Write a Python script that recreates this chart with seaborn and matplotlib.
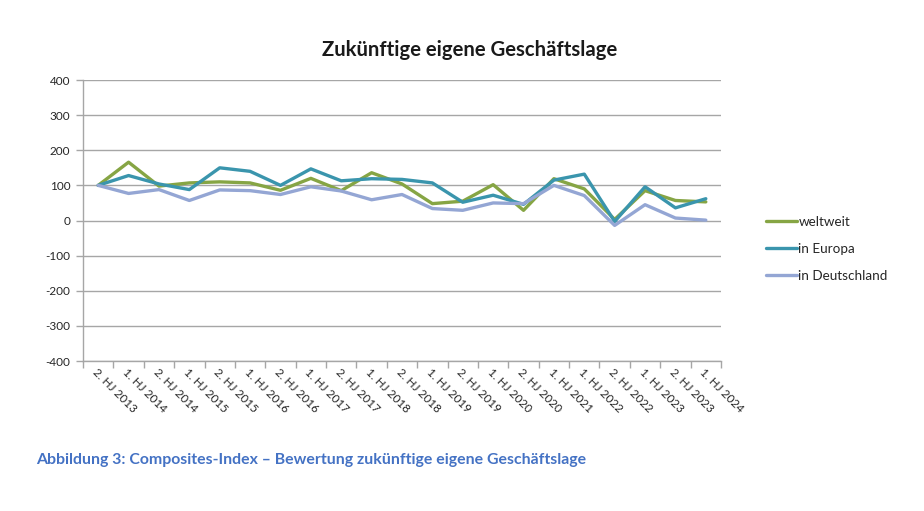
import numpy as np
import pandas as pd
import matplotlib.pyplot as plt
import seaborn as sns

sns.set_theme(style="white")
plt.rcParams['font.family'] = ['Lato', 'DejaVu Sans']
plt.rcParams['axes.unicode_minus'] = False

perioden = ["2. HJ 2013", "1. HJ 2014", "2. HJ 2014", "1. HJ 2015", "2. HJ 2015",
            "1. HJ 2016", "2. HJ 2016", "1. HJ 2017", "2. HJ 2017", "1. HJ 2018",
            "2. HJ 2018", "1. HJ 2019", "2. HJ 2019", "1. HJ 2020", "2. HJ 2020",
            "1. HJ 2021", "1. HJ 2022", "2. HJ 2022", "1. HJ 2023", "2. HJ 2023",
            "1. HJ 2024"]
weltweit = [100, 166, 98, 107, 110, 107, 86, 120, 85, 136,
            104, 48, 55, 102, 29, 119, 90, 3, 85, 57, 53]
europa = [100, 128, 104, 88, 150, 140, 100, 147, 113, 119,
          117, 107, 52, 72, 46, 115, 132, -3, 96, 36, 62]
deutschland = [100, 77, 88, 57, 87, 85, 74, 96, 84, 59,
               74, 34, 29, 50, 48, 100, 71, -14, 45, 7, 1]

serien = ["weltweit", "in Europa", "in Deutschland"]
farben = ["#86A544", "#3A95AD", "#94A6D4"]

df = pd.DataFrame({
    "pos": list(range(len(perioden))) * 3,
    "wert": weltweit + europa + deutschland,
    "serie": [s for s in serien for _ in perioden],
})

fig = plt.figure(figsize=(9.24, 5.11), dpi=100)
ax = fig.add_axes([83/924, 1-361/511, (721-83)/924, (361-80)/511])

sns.lineplot(data=df, x="pos", y="wert", hue="serie", hue_order=serien,
             palette=farben, linewidth=2.4, sort=False, ax=ax)

ax.set_xlim(-0.5, len(perioden) - 0.5)
ax.set_ylim(-400, 400)
ax.set_yticks(np.arange(-400, 401, 100))
ax.yaxis.grid(True, color="#A6A6A6", linewidth=1)
ax.set_axisbelow(True)

# tick marks at category borders, labels at centres
ax.set_xticks(np.arange(-0.5, len(perioden), 1))
ax.set_xticklabels([])
ax.set_xticks(np.arange(len(perioden)), minor=True)
ax.set_xticklabels(perioden, minor=True, rotation=-45, ha="left", va="top",
                   rotation_mode="anchor", fontsize=8.5)
ax.tick_params(axis="x", which="major", direction="out", length=5,
               color="#A6A6A6", width=1, bottom=True)
ax.tick_params(axis="x", which="minor", length=0, pad=4)
ax.tick_params(axis="y", direction="out", length=5, color="#A6A6A6",
               width=1, left=True, labelsize=8.5, pad=4)

for s in ["top", "right"]:
    ax.spines[s].set_visible(False)
for s in ["left", "bottom"]:
    ax.spines[s].set_color("#A6A6A6")
    ax.spines[s].set_linewidth(1)

ax.set_xlabel("")
ax.set_ylabel("")

ax.legend(loc="center left", bbox_to_anchor=(754/924, 1-249/511),
          bbox_transform=fig.transFigure, frameon=False, fontsize=9.7,
          handlelength=2.3, handletextpad=0.1, labelspacing=1.1)

fig.text(470/924, 1-50/511, "Zukünftige eigene Geschäftslage", ha="center",
         va="center", fontsize=14.6, fontweight="bold", color="#1A1A1A")
fig.text(36/924, 1-460/511,
         "Abbildung 3: Composites-Index \u2013 Bewertung zukünftige eigene Geschäftslage",
         ha="left", va="center", fontsize=11.4, fontweight="bold", color="#4472C4")

fig.savefig("out.png", dpi=100)
